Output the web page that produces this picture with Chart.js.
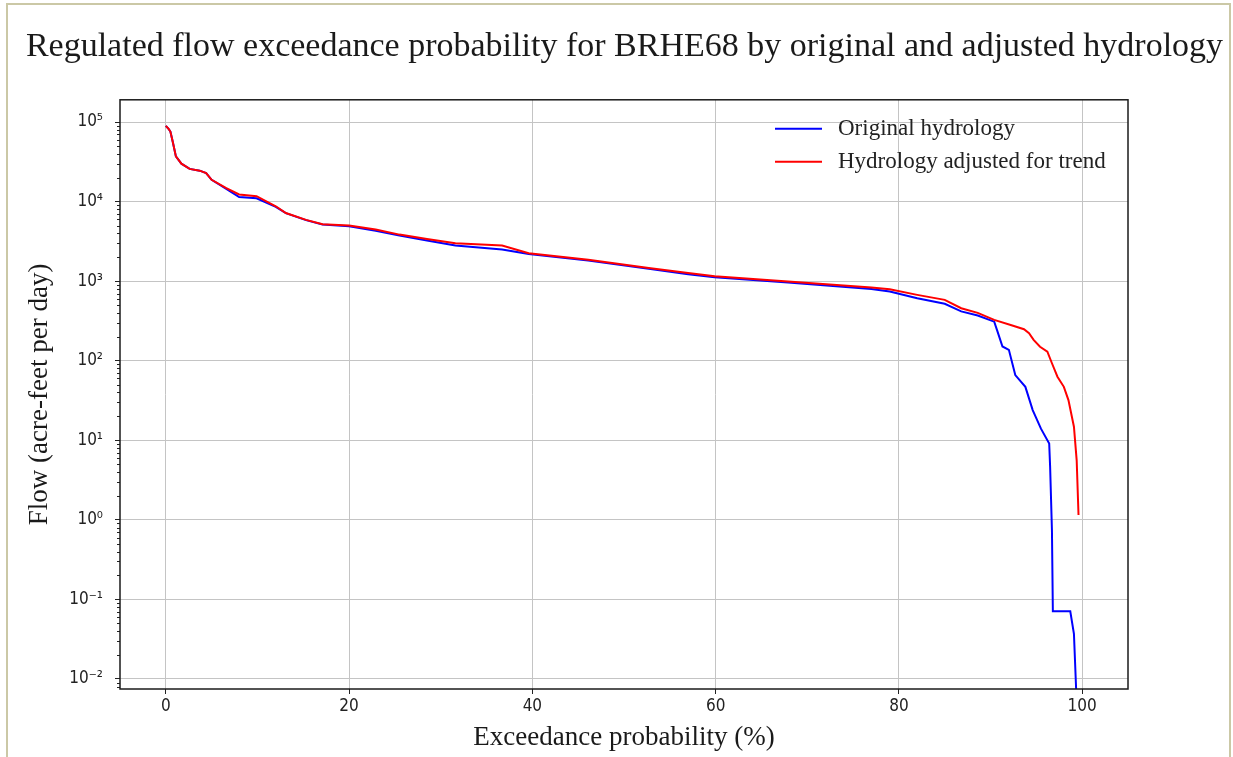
<!DOCTYPE html>
<html>
<head>
<meta charset="utf-8">
<script src="https://cdn.jsdelivr.net/npm/chart.js@4.4.0/dist/chart.umd.min.js"></script>
<style>
  html, body { margin: 0; padding: 0; background: #fff; }
  #frame { position: absolute; left: 6px; top: 3px; width: 1225px; height: 800px; border: 2px solid #cbc8a6; box-sizing: border-box; }
  #wrap { position: absolute; left: 0; top: 0; width: 1233px; height: 757px; }
</style>
</head>
<body>
<div id="frame"></div>
<div id="wrap"><canvas id="chart" width="1233" height="757"></canvas></div>
<script>
// values
const origX = [0, 0.3, 0.5, 0.75, 1.1, 1.7, 2.6, 3.7, 4.4, 5.0, 6.6, 8.0, 9.9, 12.0, 13.1, 15.3, 17.1, 20.0, 22.9, 25.5,
  28.5, 31.6, 36.7, 39.6, 46.1, 52.7, 57.0, 59.9, 67.9, 77.0, 79.0, 82.0, 85.0, 86.8, 88.6, 90.4, 90.7, 91.3, 92.0,
  92.7, 93.8, 94.6, 95.5, 96.4, 96.5, 96.7, 96.8, 98.7, 99.1, 99.4];
const origFlow = [89800, 82000, 76000, 57000, 37000, 30000, 25800, 24500, 22900, 18800, 14500, 11400, 11000, 8600, 7150,
  5850, 5150, 4900, 4300, 3750, 3250, 2800, 2500, 2200, 1820, 1430, 1220, 1120, 960, 800, 740, 611, 520, 417, 370, 310,
  244, 151, 137, 66, 47, 24, 14, 9.1, 4.7, 0.74, 0.071, 0.071, 0.037, 0.005];

const adjX = [0, 0.3, 0.5, 0.75, 1.1, 1.7, 2.6, 3.7, 4.4, 5.0, 6.6, 8.0, 9.9, 12.0, 13.1, 15.3, 17.1, 20.0, 22.9, 25.5,
  28.5, 31.6, 36.7, 39.6, 46.1, 52.7, 57.0, 59.9, 67.9, 77.0, 79.0, 82.0, 85.0, 86.8, 88.6, 90.4, 92.2, 93.65, 94.2,
  94.7, 95.4, 96.2, 96.7, 97.3, 98.0, 98.5, 99.1, 99.4, 99.6];
const adjFlow = [89800, 82000, 76000, 57000, 37000, 30000, 25800, 24500, 22900, 18800, 14800, 12300, 11700, 8750, 7200,
  5900, 5200, 5000, 4450, 3850, 3400, 3000, 2800, 2250, 1860, 1460, 1270, 1150, 990, 830, 790, 673, 582, 457, 400, 326,
  282, 249, 222, 183, 150, 130, 93, 63, 47, 32, 14.8, 5.6, 1.15];

const seriesNames = ['Original hydrology', 'Hydrology adjusted for trend'];
const xTicks = [0, 20, 40, 60, 80, 100];
const yExponents = [-2, -1, 0, 1, 2, 3, 4, 5];

const sup = { '-': '\u207B', '0': '\u2070', '1': '\u00B9', '2': '\u00B2', '3': '\u00B3', '4': '\u2074', '5': '\u2075',
  '6': '\u2076', '7': '\u2077', '8': '\u2078', '9': '\u2079' };
const pow10Label = e => '10' + String(e).split('').map(ch => sup[ch]).join('');

const toPoints = (xs, ys) => xs.map((x, i) => ({ x: x, y: ys[i] }));

// frame, minor ticks and legend drawn on top of the plot
const framePlugin = {
  id: 'frame',
  afterDraw(chart) {
    const { ctx, chartArea: a } = chart;
    const yScale = chart.scales.y;
    ctx.save();
    ctx.strokeStyle = '#222';
    ctx.lineWidth = 1;
    for (let e = -3; e <= 5; e++) {
      for (let m = 2; m <= 9; m++) {
        const v = m * Math.pow(10, e);
        if (v < yScale.min || v > yScale.max) continue;
        const y = Math.round(yScale.getPixelForValue(v)) + 0.5;
        ctx.beginPath();
        ctx.moveTo(a.left - 3, y);
        ctx.lineTo(a.left, y);
        ctx.stroke();
      }
    }
    ctx.lineWidth = 1.5;
    ctx.strokeStyle = '#1a1a1a';
    ctx.strokeRect(a.left, a.top, a.right - a.left, a.bottom - a.top);

    // legend
    chart.data.datasets.forEach((ds, i) => {
      const y = a.top + 29 + i * 33;
      ctx.strokeStyle = ds.borderColor;
      ctx.lineWidth = 2;
      ctx.beginPath();
      ctx.moveTo(a.right - 353, y);
      ctx.lineTo(a.right - 306, y);
      ctx.stroke();
      ctx.fillStyle = '#222';
      ctx.font = '23px "Liberation Serif", serif';
      ctx.textBaseline = 'middle';
      ctx.fillText(ds.label, a.right - 290, y);
    });
    ctx.restore();
  }
};

new Chart(document.getElementById('chart'), {
  type: 'line',
  data: {
    datasets: [{
      label: seriesNames[0],
      data: toPoints(origX, origFlow),
      borderColor: '#0000ff',
      borderWidth: 2,
      pointRadius: 0,
      tension: 0,
      order: 2
    }, {
      label: seriesNames[1],
      data: toPoints(adjX, adjFlow),
      borderColor: '#ff0000',
      borderWidth: 2,
      pointRadius: 0,
      tension: 0,
      order: 1
    }]
  },
  options: {
    responsive: false,
    animation: false,
    layout: { padding: { left: 16, right: 0, top: 0, bottom: 0 } },
    plugins: {
      legend: { display: false },
      tooltip: { enabled: false },
      title: {
        display: true,
        text: 'Regulated flow exceedance probability for BRHE68 by original and adjusted hydrology',
        color: '#1a1a1a',
        font: { family: '"Liberation Serif", serif', size: 34, weight: 'normal' },
        padding: { top: 27, bottom: 32 }
      }
    },
    scales: {
      x: {
        type: 'linear',
        min: -5,
        max: 105,
        afterBuildTicks: scale => { scale.ticks = xTicks.map(v => ({ value: v })); },
        afterFit: scale => { scale.height = 68; },
        grid: { color: '#c4c4c4', lineWidth: 1, tickColor: '#222', tickLength: 5 },
        border: { display: false },
        ticks: {
          color: '#222',
          padding: 2,
          maxRotation: 0,
          font: { family: '"DejaVu Sans Condensed", "DejaVu Sans", sans-serif', size: 17 }
        },
        title: {
          display: true,
          text: 'Exceedance probability (%)',
          color: '#1a1a1a',
          font: { family: '"Liberation Serif", serif', size: 27, weight: 'normal' },
          padding: { top: 0, bottom: 3 }
        }
      },
      y: {
        type: 'logarithmic',
        position: 'left',
        min: 0.00748,
        max: 190500,
        afterBuildTicks: scale => { scale.ticks = yExponents.map(e => ({ value: Math.pow(10, e) })); },
        afterFit: scale => { scale.width = 104; },
        grid: { color: '#c4c4c4', lineWidth: 1, tickColor: '#222', tickLength: 5 },
        border: { display: false },
        ticks: {
          color: '#222',
          padding: 12,
          font: { family: '"DejaVu Sans Condensed", "DejaVu Sans", sans-serif', size: 17 },
          callback: value => pow10Label(Math.round(Math.log10(value)))
        },
        title: {
          display: true,
          text: 'Flow (acre-feet per day)',
          color: '#1a1a1a',
          font: { family: '"Liberation Serif", serif', size: 27, weight: 'normal' },
          padding: { top: 8, bottom: 0 }
        }
      },
      y2: {
        type: 'linear',
        position: 'right',
        display: true,
        afterFit: scale => { scale.width = 105; },
        grid: { display: false, drawTicks: false },
        border: { display: false },
        ticks: { display: false }
      }
    }
  },
  plugins: [framePlugin]
});
</script>
</body>
</html>
